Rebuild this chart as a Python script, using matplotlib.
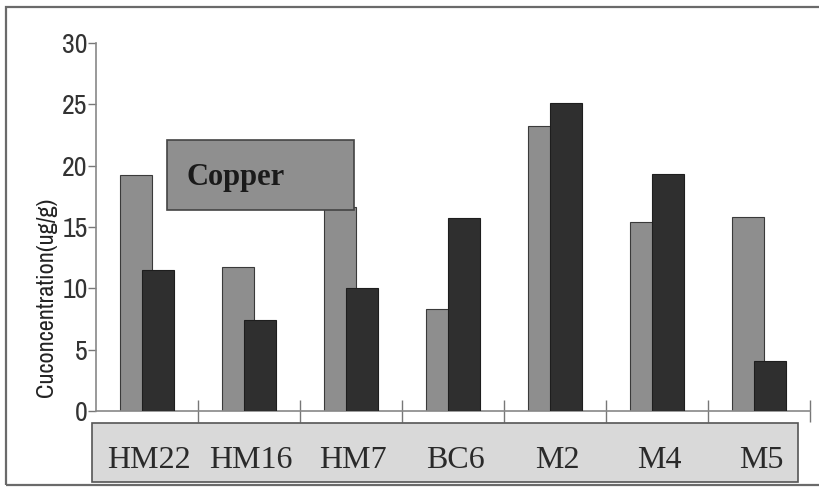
import matplotlib
matplotlib.use("Agg")
import matplotlib.pyplot as plt
from matplotlib.patches import Rectangle
import numpy as np

# Copper concentration per sampling site (ug/g), two sampling series
sites = ["HM22", "HM16", "HM7", "BC6", "M2", "M4", "M5"]
series_a = [19.2, 11.7, 16.6, 8.3, 23.2, 15.4, 15.8]
series_b = [11.5, 7.4, 10.0, 15.7, 25.1, 19.3, 4.1]
y_ticks = [0, 5, 10, 15, 20, 25, 30]
y_label = "Cuconcentration(ug/g)"
panel_title = "Copper"

W, H = 819, 487
fig = plt.figure(figsize=(W / 100, H / 100), dpi=100)
fig.patch.set_facecolor("white")

def fx(px):
    return px / W

def fy(py):
    return 1 - py / H

narrow = ["Archivo Narrow", "DejaVu Sans"]
serif = ["Liberation Serif", "DejaVu Serif"]

# outer frame
fig.add_artist(Rectangle((fx(6), fy(485)), fx(900) - fx(6), fy(7) - fy(485),
                         transform=fig.transFigure, fill=False,
                         edgecolor="#6a6a6a", lw=1.6))

ax = fig.add_axes([fx(96), fy(411), fx(810) - fx(96), fy(43) - fy(411)])
ax.set_facecolor("none")

x = np.arange(len(sites)) + 0.5
w = 0.32
off = 0.108
ax.bar(x - off, series_a, width=w, color="#8e8e8e", edgecolor="#3a3a3a",
       lw=0.8, zorder=2)
ax.bar(x + off, series_b, width=w, color="#2f2f2f", edgecolor="#1e1e1e",
       lw=0.8, zorder=3)

ax.set_xlim(0, len(sites))
ax.set_ylim(0, 30)
ax.set_yticks(y_ticks)
ax.set_yticklabels([str(t) for t in y_ticks], family=narrow, fontsize=20,
                   color="#333333")
ax.set_xticks(np.arange(1, len(sites) + 1))
ax.set_xticklabels([])
ax.tick_params(axis="y", direction="out", length=6, width=1, color="#777777",
               pad=0)
ax.tick_params(axis="x", direction="inout", length=16, width=1,
               color="#777777")
for s in ["top", "right"]:
    ax.spines[s].set_visible(False)
for s in ["left", "bottom"]:
    ax.spines[s].set_color("#888888")
    ax.spines[s].set_linewidth(1.2)

fig.text(fx(47), fy(297), y_label, rotation=90, ha="center", va="center",
         family=narrow, fontsize=17.5, color="#222222")

# title panel
fig.add_artist(Rectangle((fx(167), fy(210)), fx(354) - fx(167),
                         fy(140) - fy(210), transform=fig.transFigure,
                         facecolor="#8f8f8f", edgecolor="#444444", lw=1.2,
                         zorder=5))
fig.text(fx(187), fy(178), panel_title, ha="left", va="center",
         family=serif, fontweight="bold", fontsize=22, color="#1a1a1a",
         zorder=6)

# category label panel
fig.add_artist(Rectangle((fx(92), fy(482)), fx(798) - fx(92),
                         fy(423) - fy(482), transform=fig.transFigure,
                         facecolor="#d9d9d9", edgecolor="#555555", lw=1.2,
                         zorder=5))
for xi, name in zip(x, sites):
    px = 96 + xi * (810 - 96) / len(sites)
    fig.text(fx(px + 2), fy(461), name, ha="center", va="center",
             family=serif, fontsize=23, color="#2a2a2a", zorder=6)

fig.savefig("out.png", dpi=100)
